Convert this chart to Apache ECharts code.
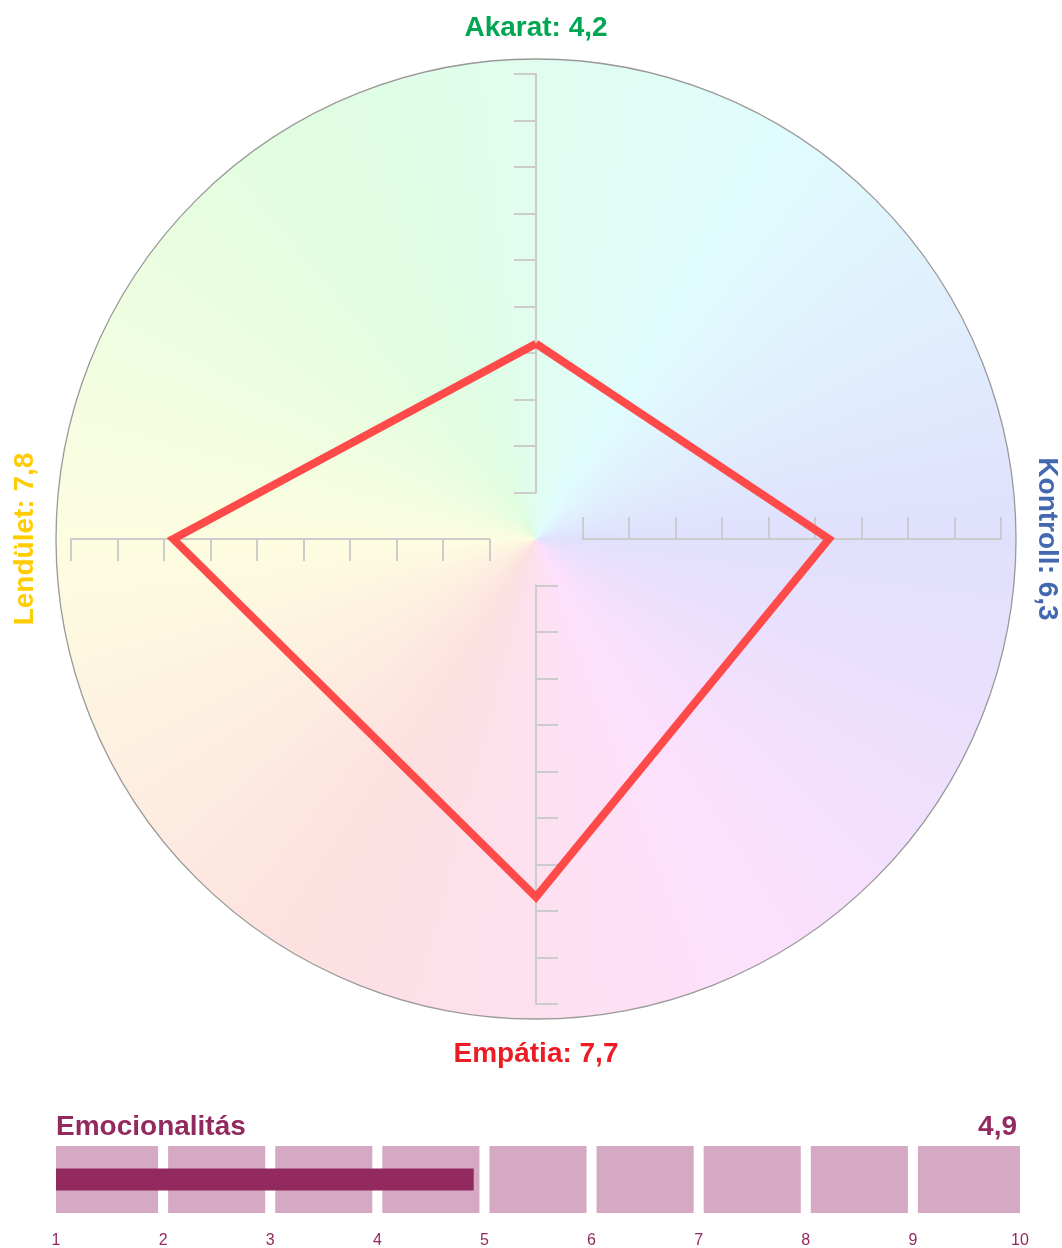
<!DOCTYPE html>
<html>
<head>
<meta charset="utf-8">
<script src="https://cdn.jsdelivr.net/npm/echarts@6/dist/echarts.min.js"></script>
<style>
html,body{margin:0;padding:0;background:#fff;}
#chart{width:1062px;height:1248px;}
</style>
</head>
<body>
<div id="chart"></div>
<script>
// ---- data ----
// radar dimensions in ECharts radar order (top, left, bottom, right)
const dimNames = ['Akarat', 'Lendület', 'Empátia', 'Kontroll'];
const dimValues = [4.2, 7.8, 7.7, 6.3];
const dimColors = ['#00a651', '#ffcc00', '#ec1c24', '#4468b0'];
const radarMin = 0;
const radarMax = 10;
const tickMin = 1;
const tickMax = 10;

const emoName = 'Emocionalitás';
const emoValue = 4.9;
const emoTicks = [1, 2, 3, 4, 5, 6, 7, 8, 9, 10];

// background colour wheel stops (clockwise from north, every 30°)
const wheelColors = ['#e0fdf0', '#e0fdfd', '#e0effd', '#e0e0fd', '#eee0fd', '#fde0fd',
                     '#fde0ef', '#fde0e0', '#fdefe0', '#fdfde0', '#eefde0', '#e0fde0', '#e0fdf0'];

// ---- layout ----
const W = 1062, H = 1248;
const CX = 536, CY = 539, R = 465, CIRCLE_R = 480;
const UNIT = R / radarMax;
const FONT = '"Liberation Sans", Arial, Helvetica, sans-serif';
const fmt = v => v.toFixed(1).replace('.', ',');

function makeWheel() {
  const c = document.createElement('canvas');
  c.width = W; c.height = H;
  const ctx = c.getContext('2d');
  if (ctx.createConicGradient) {
    const g = ctx.createConicGradient(-Math.PI / 2, CX, CY);
    wheelColors.forEach((col, i) => g.addColorStop(i / (wheelColors.length - 1), col));
    ctx.fillStyle = g;
    ctx.fillRect(0, 0, W, H);
  } else {
    const n = wheelColors.length - 1;
    for (let i = 0; i < 360; i++) {
      const a0 = -Math.PI / 2 + i * Math.PI / 180, a1 = a0 + 1.5 * Math.PI / 180;
      const k = Math.floor(i / (360 / n));
      ctx.fillStyle = wheelColors[k];
      ctx.beginPath(); ctx.moveTo(CX, CY); ctx.arc(CX, CY, CIRCLE_R + 5, a0, a1); ctx.closePath(); ctx.fill();
    }
  }
  return c;
}

const chart = echarts.init(document.getElementById('chart'), null, {renderer: 'canvas'});

const tickStyle = {
  axisLine: {show: true, lineStyle: {color: '#cccccc', width: 2}},
  axisTick: {show: true, length: 22, lineStyle: {color: '#cccccc', width: 2}},
  axisLabel: {show: false},
  splitLine: {show: false}
};
const hiddenAxis = gi => ({type: 'value', gridIndex: gi, show: false, min: 0, max: 1});

const len = (tickMax - tickMin) * UNIT;
const near = tickMin * UNIT;

const grids = [
  {left: CX, top: CY - R, width: 40, height: len},              // top axis
  {left: CX, top: CY + near, width: 40, height: len},           // bottom axis
  {left: CX + near, top: CY - 100, width: len, height: 100},    // right axis
  {left: CX - R, top: CY - 100, width: len, height: 100},       // left axis
  {left: 56, top: 1146, width: 964, height: 67}                 // emocionalitás bar
].map(g => Object.assign({outerBoundsMode: 'none', containLabel: false}, g));

const xAxes = [
  hiddenAxis(0), hiddenAxis(1),
  Object.assign({type: 'value', gridIndex: 2, position: 'bottom', min: tickMin, max: tickMax, interval: 1}, tickStyle,
    {axisTick: Object.assign({}, tickStyle.axisTick, {inside: true})}),
  Object.assign({type: 'value', gridIndex: 3, position: 'bottom', inverse: true, min: tickMin, max: tickMax, interval: 1}, tickStyle),
  {type: 'value', gridIndex: 4, min: emoTicks[0], max: emoTicks[emoTicks.length - 1], interval: 1,
   axisLine: {show: false}, axisTick: {show: false}, splitLine: {show: false},
   axisLabel: {color: '#932a5f', fontSize: 16, fontFamily: FONT, margin: 20}}
];
const yAxes = [
  Object.assign({type: 'value', gridIndex: 0, position: 'left', min: tickMin, max: tickMax, interval: 1}, tickStyle),
  Object.assign({type: 'value', gridIndex: 1, position: 'left', inverse: true, min: tickMin, max: tickMax, interval: 1}, tickStyle,
    {axisTick: Object.assign({}, tickStyle.axisTick, {inside: true})}),
  hiddenAxis(2), hiddenAxis(3),
  {type: 'category', gridIndex: 4, data: [emoName], show: false}
];

// label positions around the circle (top, left, bottom, right)
const labelPos = [
  {x: CX, y: 28, rotation: 0},
  {x: 25, y: CY, rotation: Math.PI / 2},
  {x: CX, y: 1054, rotation: 0},
  {x: 1047, y: CY, rotation: -Math.PI / 2}
];

const graphics = [
  {type: 'circle', z: -10, silent: true,
   shape: {cx: CX, cy: CY, r: CIRCLE_R},
   style: {fill: {image: makeWheel(), repeat: 'no-repeat'}, stroke: '#999999', lineWidth: 1.3}}
];
dimNames.forEach((n, i) => {
  graphics.push({
    type: 'text', z: 10, x: labelPos[i].x, y: labelPos[i].y, rotation: labelPos[i].rotation,
    style: {text: n + ': ' + fmt(dimValues[i]), fill: dimColors[i],
            font: 'bold 28px ' + FONT, align: 'center', verticalAlign: 'middle',
            textAlign: 'center', textVerticalAlign: 'middle'}
  });
});
graphics.push({
  type: 'text', z: 10, x: 56, y: 1127,
  style: {text: emoName, fill: '#932a5f', font: 'bold 28px ' + FONT,
          align: 'left', verticalAlign: 'middle', textAlign: 'left', textVerticalAlign: 'middle'}
});
graphics.push({
  type: 'text', z: 10, x: 1017, y: 1127,
  style: {text: fmt(emoValue), fill: '#932a5f', font: 'bold 28px ' + FONT,
          align: 'right', verticalAlign: 'middle', textAlign: 'right', textVerticalAlign: 'middle'}
});

const cellData = emoTicks.slice(0, -1).map((t, i) => [t, emoTicks[i + 1]]);
const GAP = 5;

chart.setOption({
  animation: false,
  backgroundColor: '#ffffff',
  graphic: {elements: graphics},
  grid: grids,
  xAxis: xAxes,
  yAxis: yAxes,
  radar: {
    center: [CX, CY],
    radius: R,
    startAngle: 90,
    shape: 'polygon',
    indicator: dimNames.map(n => ({name: n, min: radarMin, max: radarMax})),
    axisName: {show: false},
    axisLine: {show: false},
    axisTick: {show: false},
    axisLabel: {show: false},
    splitLine: {show: false},
    splitArea: {show: false}
  },
  series: [
    {
      type: 'radar', z: 5,
      symbol: 'none',
      lineStyle: {color: '#ff4a4a', width: 8, join: 'miter', opacity: 1},
      data: [{value: dimValues, name: 'Profil'}]
    },
    {
      type: 'custom', xAxisIndex: 4, yAxisIndex: 4, z: 1,
      data: cellData,
      renderItem: function (params, api) {
        const s = api.value(0), e = api.value(1);
        const p0 = api.coord([s, 0]);
        const p1 = api.coord([e, 0]);
        const h = api.size([0, 1])[1];
        const x0 = p0[0] + (s > emoTicks[0] ? GAP : 0);
        const x1 = p1[0] - (e < emoTicks[emoTicks.length - 1] ? GAP : 0);
        return {type: 'rect', shape: {x: x0, y: p0[1] - h / 2, width: x1 - x0, height: h},
                style: {fill: '#d5a9c3'}};
      }
    },
    {
      type: 'bar', xAxisIndex: 4, yAxisIndex: 4, z: 3,
      barWidth: 22, clip: true,
      itemStyle: {color: '#932a5f'},
      data: [emoValue]
    }
  ]
});
</script>
</body>
</html>
